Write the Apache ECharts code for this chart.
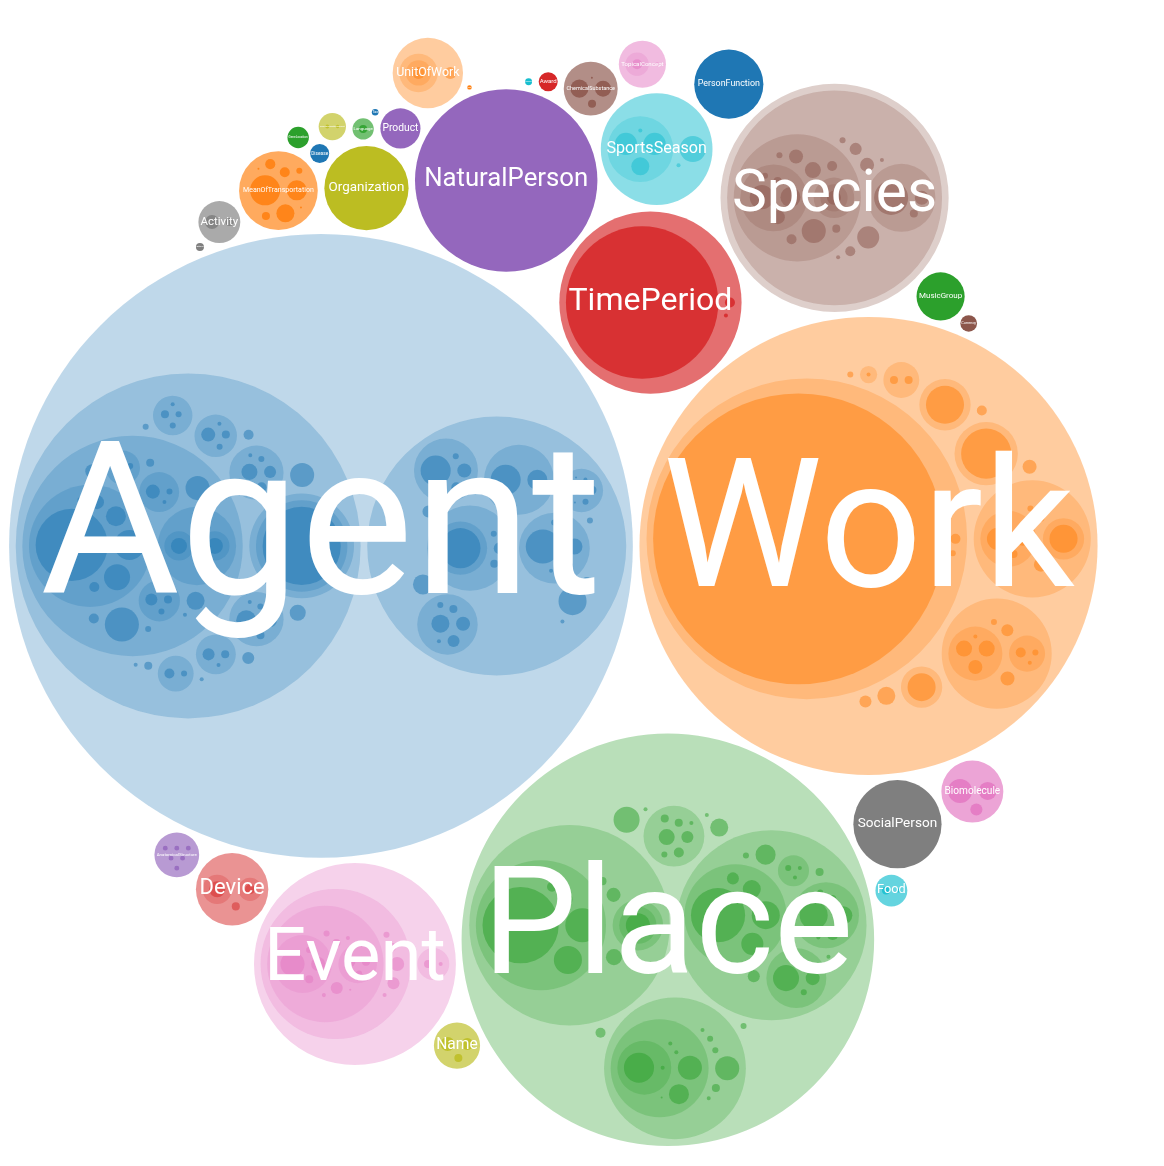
<!DOCTYPE html>
<html>
<head>
<meta charset="utf-8">
<title>DBpedia ontology</title>
<script src="https://cdn.jsdelivr.net/npm/echarts@6/dist/echarts.min.js"></script>
<style>
  html, body { margin: 0; padding: 0; background: #fff; }
  #main { width: 1164px; height: 1166px; }
</style>
</head>
<body>
<div id="main"></div>
<script>
// top level classes, ordered by instance count
var topNames = ['Agent', 'Work', 'Place', 'TimePeriod', 'NaturalPerson', 'Species', 'Event', 'SocialPerson',
  'Organization', 'SportsSeason', 'PersonFunction', 'MeanOfTransportation', 'MusicGroup', 'Device', 'Product',
  'ChemicalSubstance', 'Biomolecule', 'Activity', 'Name', 'Food', 'Disease', 'UnitOfWork', 'Language', 'Award',
  'AnatomicalStructure', 'Currency', 'TopicalConcept', 'Altitude', 'SportCompetitionResult', 'Colour', 'Tax',
  'Sales', 'GeneLocation'];

// top level classes without subclasses
var leafClasses = [
  ['NaturalPerson', 8281], ['SocialPerson', 1936], ['Organization', 1764], ['PersonFunction', 1190],
  ['MusicGroup', 576], ['Product', 400], ['Disease', 90], ['Award', 90], ['Currency', 69],
  ['Altitude', 16], ['Colour', 12], ['Tax', 11], ['Sales', 5], ['GeneLocation', 114]
];

var agentData = [
  ['Person.Athlete.SoccerPlayer.Goalkeeper', 1296], ['Person.Athlete.SoccerPlayer.Forward', 225],
  ['Person.Athlete.SoccerPlayer.Defender', 169], ['Person.Athlete.SoccerPlayer.Midfielder', 100],
  ['Person.Athlete.SoccerPlayer.Winger', 49], ['Person.Athlete.SoccerPlayer.Sweeper', 25],
  ['Person.Athlete.SoccerPlayer.Libero', 9],
  ['Person.Athlete.Cyclist.RoadCyclist.Sprinter', 64], ['Person.Athlete.Cyclist.TrackCyclist.Pursuer', 64],
  ['Person.Athlete.GolfPlayer.Professional', 36], ['Person.Athlete.GolfPlayer.Amateur', 16],
  ['Person.Athlete.GolfPlayer.Senior', 9], ['Person.Athlete.GolfPlayer.Junior', 4],
  ['Person.Athlete.Wrestler.SumoWrestler', 49], ['Person.Athlete.Wrestler.ProWrestler', 9],
  ['Person.Athlete.Wrestler.Grappler', 4],
  ['Person.Athlete.Swimmer.Freestyle', 16], ['Person.Athlete.Swimmer.Backstroke', 9],
  ['Person.Athlete.Swimmer.Butterfly', 4],
  ['Person.Athlete.TennisPlayer', 289], ['Person.Athlete.Boxer', 144], ['Person.Athlete.Jockey', 81],
  ['Person.Athlete.Skier', 49], ['Person.Athlete.Rower', 25], ['Person.Athlete.Skater', 16],
  ['Person.Athlete.Archer', 9], ['Person.Athlete.Fencer', 4],
  ['Person.Politician.Governor.Senator', 1521],
  ['Person.Artist.Painter', 64], ['Person.Artist.Sculptor', 36], ['Person.Artist.Photographer', 25],
  ['Person.Artist.Comedian', 9], ['Person.Artist.Dancer', 4],
  ['Person.Writer.Novelist', 100], ['Person.Writer.Poet', 49], ['Person.Writer.Playwright', 16],
  ['Person.Writer.Screenwriter', 9], ['Person.Writer.Historian', 4],
  ['Person.Scientist.Biologist', 49], ['Person.Scientist.Chemist', 16], ['Person.Scientist.Physicist', 9],
  ['Person.Scientist.Medician', 4],
  ['Person.Cleric.Pope', 36], ['Person.Cleric.Cardinal', 16], ['Person.Cleric.Priest', 4],
  ['Person.Journalist.Reporter', 16], ['Person.Journalist.Editor', 9], ['Person.Journalist.Columnist', 9],
  ['Person.Journalist.Critic', 4],
  ['Person.Judge.Justice', 25], ['Person.Judge.Magistrate', 9],
  ['Person.Model', 144], ['Person.Chef', 64], ['Person.Architect', 36], ['Person.Astronaut', 25],
  ['Person.Monarch', 16], ['Person.Noble', 9], ['Person.Royalty', 4], ['Person.Saint', 4],
  ['Organisation.Company.Airline.CargoAirline', 400], ['Organisation.Company.Brewery', 36],
  ['Organisation.Company.Publisher', 16], ['Organisation.Company.Winery', 9],
  ['Organisation.SportsTeam.SoccerClub', 289], ['Organisation.SportsTeam.HockeyTeam', 64],
  ['Organisation.SportsTeam.RugbyClub', 49], ['Organisation.SportsTeam.CricketTeam', 16],
  ['Organisation.SportsTeam.BasketballTeam', 9], ['Organisation.SportsTeam.CyclingTeam', 4],
  ['Organisation.EducationalInstitution.University', 81], ['Organisation.EducationalInstitution.School', 49],
  ['Organisation.EducationalInstitution.College', 36], ['Organisation.EducationalInstitution.Library', 16],
  ['Organisation.EducationalInstitution.Kindergarten', 9], ['Organisation.EducationalInstitution.Academy', 4],
  ['Organisation.Broadcaster.TelevisionStation', 225], ['Organisation.Broadcaster.RadioStation', 100],
  ['Organisation.PoliticalParty.Liberal', 225], ['Organisation.PoliticalParty.Green', 49],
  ['Organisation.PoliticalParty.Labour', 25], ['Organisation.PoliticalParty.Pirate', 9],
  ['Organisation.Band.RockBand', 25], ['Organisation.Band.JazzBand', 16], ['Organisation.Band.Choir', 9],
  ['Organisation.Band.Orchestra', 4], ['Organisation.Band.Duo', 1], ['Organisation.Band.Trio', 1],
  ['Organisation.Legislature', 196], ['Organisation.NonProfit', 100], ['Organisation.Parliament', 36],
  ['Organisation.GovernmentAgency', 16], ['Organisation.MilitaryUnit', 9], ['Organisation.TradeUnion', 4]
];

var workData = [
  ['Film.FeatureFilm', 21025], ['Film.ShortFilm', 25], ['Film.Documentary', 9],
  ['MusicalWork.Album.Single', 121], ['MusicalWork.Album.EP', 49], ['MusicalWork.Album.Compilation', 16],
  ['MusicalWork.Song.Hit', 196], ['MusicalWork.Opera', 49], ['MusicalWork.Anthem', 16], ['MusicalWork.Ballet', 9],
  ['Software.VideoGame.ActionGame', 64], ['Software.VideoGame.RolePlayingGame', 64],
  ['Software.VideoGame.PuzzleGame', 49], ['Software.VideoGame.Shooter', 4],
  ['Software.ProgrammingLanguage.Compiled', 25], ['Software.ProgrammingLanguage.Scripting', 9],
  ['Software.ProgrammingLanguage.Markup', 4],
  ['Software.OperatingSystem', 49], ['Software.Browser', 36], ['Software.Database', 9],
  ['Cartoon.Anime', 625], ['Artwork.Painting', 361], ['WrittenWork.Book', 196],
  ['Website.Blog', 16], ['Website.Wiki', 16], ['Newspaper.Daily', 4],
  ['Sculpture', 81], ['Comic', 49], ['Musical', 36], ['Poem', 25], ['Podcast', 9]
];

var placeData = [
  ['PopulatedPlace.Settlement.City', 1444], ['PopulatedPlace.Settlement.Town', 289],
  ['PopulatedPlace.Settlement.Village', 196], ['PopulatedPlace.Settlement.Hamlet', 49],
  ['PopulatedPlace.Settlement.Suburb', 25],
  ['PopulatedPlace.Country.Region.State', 144],
  ['PopulatedPlace.Island', 64], ['PopulatedPlace.Territory', 49], ['PopulatedPlace.District', 16],
  ['ArchitecturalStructure.Building.Castle', 729], ['ArchitecturalStructure.Building.Church', 196],
  ['ArchitecturalStructure.Building.Hospital', 121], ['ArchitecturalStructure.Building.Hotel', 81],
  ['ArchitecturalStructure.Building.Library', 36],
  ['ArchitecturalStructure.Infrastructure.Road', 196], ['ArchitecturalStructure.Infrastructure.Bridge', 81],
  ['ArchitecturalStructure.Infrastructure.Airport', 36], ['ArchitecturalStructure.Infrastructure.Dam', 16],
  ['ArchitecturalStructure.Infrastructure.Tunnel', 9], ['ArchitecturalStructure.Infrastructure.Port', 4],
  ['ArchitecturalStructure.Venue.Stadium', 169], ['ArchitecturalStructure.Venue.Theatre', 49],
  ['ArchitecturalStructure.Venue.Arena', 9], ['ArchitecturalStructure.Venue.Casino', 4],
  ['ArchitecturalStructure.Venue.Pool', 4],
  ['ArchitecturalStructure.Tower.Lighthouse', 9], ['ArchitecturalStructure.Tower.Windmill', 4],
  ['ArchitecturalStructure.Tower.Mast', 4],
  ['ArchitecturalStructure.Monument', 100], ['ArchitecturalStructure.Gate', 36],
  ['ArchitecturalStructure.Pyramid', 16], ['ArchitecturalStructure.Wall', 9], ['ArchitecturalStructure.Fountain', 4],
  ['NaturalPlace.BodyOfWater.Lake.Reservoir', 225], ['NaturalPlace.BodyOfWater.Lake.Pond', 4],
  ['NaturalPlace.BodyOfWater.River', 144], ['NaturalPlace.BodyOfWater.Sea', 100],
  ['NaturalPlace.BodyOfWater.Bay', 4], ['NaturalPlace.BodyOfWater.Stream', 4], ['NaturalPlace.BodyOfWater.Spring', 1],
  ['NaturalPlace.Mountain', 144], ['NaturalPlace.Volcano', 16], ['NaturalPlace.Cave', 9],
  ['NaturalPlace.Glacier', 9], ['NaturalPlace.Valley', 4], ['NaturalPlace.Crater', 4],
  ['Park.NationalPark', 64], ['Park.Garden', 36], ['Park.Zoo', 25], ['Park.Playground', 16],
  ['Park.Cemetery', 16], ['Park.Square', 9], ['Park.Reserve', 4],
  ['Region', 169], ['SiteOfSpecialScientificInterest', 81], ['ProtectedArea', 25], ['WineRegion', 9],
  ['CelestialBody', 4], ['Satellite', 4]
];

var timePeriodData = [['Year', 5776], ['Era', 25], ['Decade', 4]];

var speciesData = [
  ['Eukaryote.Animal.Mammal.Primate', 144], ['Eukaryote.Animal.Mammal.Rodent', 100],
  ['Eukaryote.Animal.Mammal.Bat', 49], ['Eukaryote.Animal.Mammal.Whale', 16], ['Eukaryote.Animal.Mammal.Horse', 9],
  ['Eukaryote.Animal.Bird.Passerine.Finch', 49],
  ['Eukaryote.Animal.Fish', 144], ['Eukaryote.Animal.Insect', 64], ['Eukaryote.Animal.Reptile', 49],
  ['Eukaryote.Animal.Amphibian', 25], ['Eukaryote.Animal.Mollusca', 25], ['Eukaryote.Animal.Crustacean', 16],
  ['Eukaryote.Animal.Arachnid', 9],
  ['Eukaryote.Plant.FloweringPlant', 289], ['Eukaryote.Plant.Conifer', 49], ['Eukaryote.Plant.Fern', 16],
  ['Eukaryote.Plant.Moss', 4],
  ['Eukaryote.Fungus', 121], ['Eukaryote.GreenAlga', 49], ['Eukaryote.Cycad', 36], ['Eukaryote.Ginkgo', 25],
  ['Eukaryote.ClubMoss', 9], ['Eukaryote.Gnetophytes', 4], ['Eukaryote.Protist', 4]
];

var eventData = [
  ['SocietalEvent.SportsEvent.Race.HorseRace', 144], ['SocietalEvent.SportsEvent.Race.CyclingRace', 49],
  ['SocietalEvent.SportsEvent.Race.MotorRace', 16], ['SocietalEvent.SportsEvent.Race.Marathon', 9],
  ['SocietalEvent.SportsEvent.Match.FootballMatch', 25], ['SocietalEvent.SportsEvent.Match.TennisMatch', 16],
  ['SocietalEvent.SportsEvent.Match.BoxingMatch', 9],
  ['SocietalEvent.SportsEvent.Olympics', 36], ['SocietalEvent.SportsEvent.Tournament', 16],
  ['SocietalEvent.SportsEvent.Cup', 9], ['SocietalEvent.SportsEvent.Final', 4],
  ['SocietalEvent.SportsEvent.Rally', 4], ['SocietalEvent.SportsEvent.Derby', 1],
  ['SocietalEvent.MilitaryConflict', 49], ['SocietalEvent.Election', 36], ['SocietalEvent.Festival', 16],
  ['SocietalEvent.Convention', 9], ['SocietalEvent.Attack', 4],
  ['NaturalEvent.Earthquake', 16], ['NaturalEvent.Storm', 4]
];

var sportsSeasonData = [
  ['SportsTeamSeason.SoccerClubSeason', 121], ['SportsTeamSeason.BaseballSeason', 121],
  ['SportsTeamSeason.HockeySeason', 81], ['SportsTeamSeason.RugbySeason', 4],
  ['MotorsportSeason', 169], ['FootballLeagueSeason', 4]
];

var transportData = [['Automobile', 225], ['Aircraft', 100], ['Ship', 81], ['Locomotive', 25], ['Train', 25],
  ['Motorcycle', 16], ['Spacecraft', 9], ['Rocket', 1], ['Tank', 1]];
var deviceData = [['Instrument.Guitar', 64], ['Weapon.Rifle', 25], ['Engine', 16]];
var chemicalData = [['ChemicalCompound', 81], ['ChemicalElement', 64], ['Mineral', 16], ['Drug', 1]];
var biomoleculeData = [['Protein', 144], ['Gene', 81], ['Enzyme', 36]];
var activityData = [['Sport', 49], ['Game', 16]];
var nameData = [['GivenName', 49], ['Surname', 36], ['Nickname', 16]];
var foodData = [['Beverage', 16], ['Cheese', 4]];
var unitOfWorkData = [['Course.Lecture.Seminar', 36], ['Exam', 36]];
var languageData = [['Dialect', 16]];
var anatomyData = [['Bone', 6], ['Muscle', 6], ['Nerve', 6], ['Vein', 6], ['Artery', 6], ['Ligament', 6]];
var topicalData = [['Genre.MusicGenre', 25], ['Theme', 4]];
var competitionData = [['OlympicResult', 4], ['MatchResult', 3]];

// instances typed only with the parent class: they take room but are not drawn
var untypedData = [['Agent.Organisation', 1225]];

var palette = ['#1f77b4', '#ff7f0e', '#2ca02c', '#d62728', '#9467bd', '#8c564b', '#e377c2', '#7f7f7f', '#bcbd22', '#17becf'];

var subclassData = {
  Agent: agentData, Work: workData, Place: placeData, TimePeriod: timePeriodData, Species: speciesData,
  Event: eventData, SportsSeason: sportsSeasonData, MeanOfTransportation: transportData, Device: deviceData,
  ChemicalSubstance: chemicalData, Biomolecule: biomoleculeData, Activity: activityData, Name: nameData,
  Food: foodData, UnitOfWork: unitOfWorkData, Language: languageData, AnatomicalStructure: anatomyData,
  TopicalConcept: topicalData, SportCompetitionResult: competitionData
};

var PADDING = 3.3;

function makeNode(name, parent) {
  return {name: name, parent: parent, depth: parent ? parent.depth + 1 : 0, children: [], value: 0, x: 0, y: 0, r: 0};
}

function findChild(node, name) {
  for (var i = 0; i < node.children.length; i++) {
    if (node.children[i].name === name && !node.children[i].hidden) return node.children[i];
  }
  return null;
}

function addPath(node, path, value) {
  path.split('.').forEach(function (seg) {
    var next = findChild(node, seg);
    if (!next) {
      next = makeNode(seg, node);
      node.children.push(next);
    }
    node = next;
  });
  node.value = value;
  return node;
}

var root = makeNode('Thing', null);
topNames.forEach(function (name, i) {
  var top = makeNode(name, root);
  root.children.push(top);
  (subclassData[name] || []).forEach(function (d) { addPath(top, d[0], d[1]); });
});
leafClasses.forEach(function (d) { findChild(root, d[0]).value = d[1]; });
untypedData.forEach(function (d) {
  var node = root;
  d[0].split('.').forEach(function (seg) { node = findChild(node, seg); });
  var h = makeNode('untyped', node);
  h.hidden = true;
  h.value = d[1];
  node.children.push(h);
});

function setHeight(node, colorIndex) {
  node.colorIndex = colorIndex;
  node.height = 0;
  node.children.forEach(function (c) {
    setHeight(c, colorIndex);
    node.height = Math.max(node.height, c.height + 1);
  });
}
root.children.forEach(function (top, i) { setHeight(top, i); });

// --- circle packing (front-chain, as in d3-hierarchy) ---
function placeCircle(b, a, c) {
  var dx = b.x - a.x, x, a2, dy = b.y - a.y, y, b2, d2 = dx * dx + dy * dy;
  if (d2) {
    a2 = a.r + c.r; a2 *= a2;
    b2 = b.r + c.r; b2 *= b2;
    if (a2 > b2) {
      x = (d2 + b2 - a2) / (2 * d2);
      y = Math.sqrt(Math.max(0, b2 / d2 - x * x));
      c.x = b.x - x * dx - y * dy;
      c.y = b.y - x * dy + y * dx;
    } else {
      x = (d2 + a2 - b2) / (2 * d2);
      y = Math.sqrt(Math.max(0, a2 / d2 - x * x));
      c.x = a.x + x * dx - y * dy;
      c.y = a.y + x * dy + y * dx;
    }
  } else {
    c.x = a.x + c.r;
    c.y = a.y;
  }
}

function intersects(a, b) {
  var dr = a.r + b.r - 1e-6, dx = b.x - a.x, dy = b.y - a.y;
  return dr > 0 && dr * dr > dx * dx + dy * dy;
}

function score(node) {
  var a = node._, b = node.next._, ab = a.r + b.r,
      dx = (a.x * b.r + b.x * a.r) / ab, dy = (a.y * b.r + b.y * a.r) / ab;
  return dx * dx + dy * dy;
}

function enclosesNot(a, b) {
  var dr = a.r - b.r, dx = b.x - a.x, dy = b.y - a.y;
  return dr < 0 || dr * dr < dx * dx + dy * dy;
}

function enclosesWeak(a, b) {
  var dr = a.r - b.r + Math.max(a.r, b.r, 1) * 1e-9, dx = b.x - a.x, dy = b.y - a.y;
  return dr > 0 && dr * dr > dx * dx + dy * dy;
}

function enclosesWeakAll(a, B) {
  for (var i = 0; i < B.length; ++i) if (!enclosesWeak(a, B[i])) return false;
  return true;
}

function encloseBasis2(a, b) {
  var x1 = a.x, y1 = a.y, r1 = a.r, x2 = b.x, y2 = b.y, r2 = b.r,
      x21 = x2 - x1, y21 = y2 - y1, r21 = r2 - r1, l = Math.sqrt(x21 * x21 + y21 * y21);
  return {x: (x1 + x2 + x21 / l * r21) / 2, y: (y1 + y2 + y21 / l * r21) / 2, r: (l + r1 + r2) / 2};
}

function encloseBasis3(a, b, c) {
  var x1 = a.x, y1 = a.y, r1 = a.r, x2 = b.x, y2 = b.y, r2 = b.r, x3 = c.x, y3 = c.y, r3 = c.r,
      a2 = x1 - x2, a3 = x1 - x3, b2 = y1 - y2, b3 = y1 - y3, c2 = r2 - r1, c3 = r3 - r1,
      d1 = x1 * x1 + y1 * y1 - r1 * r1,
      d2 = d1 - x2 * x2 - y2 * y2 + r2 * r2,
      d3 = d1 - x3 * x3 - y3 * y3 + r3 * r3,
      ab = a3 * b2 - a2 * b3,
      xa = (b2 * d3 - b3 * d2) / (ab * 2) - x1,
      xb = (b3 * c2 - b2 * c3) / ab,
      ya = (a3 * d2 - a2 * d3) / (ab * 2) - y1,
      yb = (a2 * c3 - a3 * c2) / ab,
      A = xb * xb + yb * yb - 1,
      B = 2 * (r1 + xa * xb + ya * yb),
      C = xa * xa + ya * ya - r1 * r1,
      r = -(Math.abs(A) > 1e-6 ? (B + Math.sqrt(B * B - 4 * A * C)) / (2 * A) : C / B);
  return {x: x1 + xa + xb * r, y: y1 + ya + yb * r, r: r};
}

function encloseBasis(B) {
  if (B.length === 1) return {x: B[0].x, y: B[0].y, r: B[0].r};
  if (B.length === 2) return encloseBasis2(B[0], B[1]);
  return encloseBasis3(B[0], B[1], B[2]);
}

function extendBasis(B, p) {
  var i, j;
  if (enclosesWeakAll(p, B)) return [p];
  for (i = 0; i < B.length; ++i) {
    if (enclosesNot(p, B[i]) && enclosesWeakAll(encloseBasis2(B[i], p), B)) return [B[i], p];
  }
  for (i = 0; i < B.length - 1; ++i) {
    for (j = i + 1; j < B.length; ++j) {
      if (enclosesNot(encloseBasis2(B[i], B[j]), p)
          && enclosesNot(encloseBasis2(B[i], p), B[j])
          && enclosesNot(encloseBasis2(B[j], p), B[i])
          && enclosesWeakAll(encloseBasis3(B[i], B[j], p), B)) {
        return [B[i], B[j], p];
      }
    }
  }
  return B;
}

function enclose(circles) {
  var i = 0, n = circles.length, B = [], p, e = null;
  while (i < n) {
    p = circles[i];
    if (e && enclosesWeak(e, p)) ++i;
    else { B = extendBasis(B, p); e = encloseBasis(B); i = 0; }
  }
  return e;
}

function packSiblings(circles) {
  var n = circles.length, a, b, c, aa, ca, i, j, k, sj, sk;
  if (!n) return 0;
  a = circles[0]; a.x = 0; a.y = 0;
  if (n < 2) return a.r;
  b = circles[1]; a.x = -b.r; b.x = a.r; b.y = 0;
  if (n < 3) return a.r + b.r;
  placeCircle(b, a, c = circles[2]);
  a = {_: a}; b = {_: b}; c = {_: c};
  a.next = c.previous = b;
  b.next = a.previous = c;
  c.next = b.previous = a;
  pack: for (i = 3; i < n; ++i) {
    placeCircle(a._, b._, c = circles[i]);
    c = {_: c};
    j = b.next; k = a.previous; sj = b._.r; sk = a._.r;
    do {
      if (sj <= sk) {
        if (intersects(j._, c._)) { b = j; a.next = b; b.previous = a; --i; continue pack; }
        sj += j._.r; j = j.next;
      } else {
        if (intersects(k._, c._)) { a = k; a.next = b; b.previous = a; --i; continue pack; }
        sk += k._.r; k = k.previous;
      }
    } while (j !== k.next);
    c.previous = a; c.next = b; a.next = b.previous = b = c;
    aa = score(a);
    while ((c = c.next) !== b) {
      if ((ca = score(c)) < aa) { a = c; aa = ca; }
    }
    b = a.next;
  }
  var chain = [b._];
  c = b;
  while ((c = c.next) !== b) chain.push(c._);
  var e = enclose(chain);
  for (i = 0; i < n; ++i) { circles[i].x -= e.x; circles[i].y -= e.y; }
  return e.r;
}

function packNode(node) {
  var kids = node.children;
  if (!kids.length) { node.r = Math.sqrt(node.value); return; }
  kids.forEach(packNode);
  if (node.depth > 0) kids.sort(function (p, q) { return q.r - p.r; });
  kids.forEach(function (c) { c.r += PADDING; });
  var e = packSiblings(kids);
  kids.forEach(function (c) { c.r -= PADDING; });
  node.r = e + PADDING;
}

function moveNode(node, k, px, py) {
  node.x = px + k * node.x;
  node.y = py + k * node.y;
  node.r *= k;
  node.children.forEach(function (c) { moveNode(c, k, node.x, node.y); });
}

var chart = echarts.init(document.getElementById('main'));
var W = chart.getWidth() - 2, H = chart.getHeight() - 2;
packNode(root);
var scale = Math.min(W, H) / 2 / root.r;
root.x = 0; root.y = 0;
moveNode(root, scale, W / 2, H / 2);

var nodes = [];
(function walk(n) {
  n.children.forEach(function (c) {
    if (!c.hidden) { nodes.push(c); walk(c); }
  });
})(root);

var measureCtx = document.createElement('canvas').getContext('2d');
measureCtx.font = '100px Roboto';

function fillOf(n) {
  var alpha;
  if (n.depth === 1) alpha = n.children.length ? 2 / (2 + n.height) : 1;
  else if (n.children.length) alpha = 0.25;
  else alpha = (n.parent.depth === 1 && n.parent.height === 1) ? 0.85 : 0.5;
  var c = echarts.color.parse(palette[n.colorIndex % palette.length]);
  return 'rgba(' + c[0] + ',' + c[1] + ',' + c[2] + ',' + alpha + ')';
}

function renderItem(params, api) {
  var n = nodes[api.value(0)];
  var circle = {
    type: 'circle',
    z2: n.depth,
    shape: {cx: n.x, cy: n.y, r: n.r},
    style: {fill: fillOf(n)}
  };
  if (n.depth !== 1) return circle;
  // label fills about 90% of the circle's width
  var fs = 1.8 * n.r / measureCtx.measureText(n.name).width * 100;
  return {
    type: 'group',
    children: [circle, {
      type: 'text',
      z2: 100,
      style: {
        text: n.name,
        x: n.x,
        y: n.y - fs * 0.03,
        align: 'center',
        verticalAlign: 'middle',
        fill: '#fff',
        fontSize: fs,
        fontFamily: 'Roboto'
      }
    }]
  };
}

chart.setOption({
  animation: false,
  series: [{
    type: 'custom',
    coordinateSystem: 'none',
    silent: true,
    renderItem: renderItem,
    data: nodes.map(function (n, i) { return [i, n.depth]; })
  }]
});
</script>
</body>
</html>
